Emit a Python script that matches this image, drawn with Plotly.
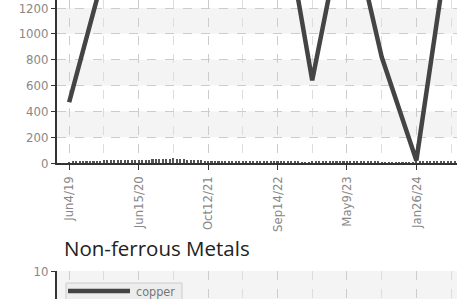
import plotly.graph_objects as go

# ---- data ----
tick_labels = ["Jun4/19", "Jun15/20", "Oct12/21", "Sep14/22", "May9/23", "Jan26/24"]
tick_index = [0, 20, 40, 60, 80, 100]

main_index = [0, 10, 20, 30, 40, 50, 60, 70, 80, 90, 100, 110]
main_values = [470, 1470, 1650, 1750, 1800, 1900, 2190, 640, 1990, 822, 20, 1840]

small_values = [7, 8, 8, 9, 8, 8, 9, 9, 8, 9,
                20, 21, 22, 22, 23, 22, 22, 23, 23, 22, 22, 23, 23, 24,
                30, 32, 33, 34, 33, 34, 35, 34, 33, 33,
                25, 24, 23, 22, 20, 18,
                14, 13, 12, 12, 12, 11, 12, 12, 11, 12, 12, 11, 12, 12, 12, 13, 12, 12, 14, 18,
                15, 11, 10, 9, 9, 8, 8,
                5, 4, 5,
                10, 11, 12, 12, 12, 12, 12, 12, 12, 12, 12, 12, 12, 12, 12, 12, 12, 12, 11, 8,
                6, 5, 5, 5, 5, 5, 5, 5, 6, 6,
                8, 10, 11, 12, 12, 12, 12, 13, 13, 14, 15, 15]
small_index = list(range(len(small_values)))

copper_index = [0, 20, 40, 60, 80, 100, 110]
copper_values = [6.0, 6.5, 7.5, 7.0, 7.2, 7.6, 7.8]
legend_name = "copper"

W, H = 457, 299
ML = 57
PW = W - ML
top_px = 163      # bottom of top plot
bot_top_px = 271  # top of bottom plot


def px(wx):  # window x -> paper x
    return (wx - ML) / PW


def py(wy):  # window y -> paper y
    return 1 - wy / H


narrow = "DejaVu Sans Condensed, Liberation Sans Narrow, Arial Narrow, Roboto Condensed, sans-serif"
tick_font = dict(family=narrow, size=13, color="#888")

fig = go.Figure()
fig.add_trace(go.Bar(x=small_index, y=small_values, width=0.6,
                     marker=dict(color="#555", line=dict(width=0)),
                     showlegend=False, xaxis="x", yaxis="y"))
fig.add_trace(go.Scatter(x=main_index, y=main_values, mode="lines",
                         line=dict(color="#444", width=4.5), showlegend=False,
                         xaxis="x", yaxis="y"))
fig.add_trace(go.Scatter(x=copper_index, y=copper_values, mode="lines", name=legend_name,
                         line=dict(color="#444", width=4.5), showlegend=False,
                         xaxis="x2", yaxis="y2"))

xr = [-3.5, 111.7]
common_x = dict(range=xr, tickmode="array", tickvals=tick_index, ticktext=tick_labels,
                tickangle=-90, ticks="outside", ticklen=5, tickcolor="#333",
                ticklabelstandoff=1,
                showgrid=True, gridcolor="#ccc", griddash="dash", gridwidth=1,
                minor=dict(tick0=0, dtick=10, showgrid=True, gridcolor="#ddd", griddash="dash"),
                zeroline=False, tickfont=tick_font, automargin=False)

fig.update_layout(
    width=W, height=H,
    margin=dict(l=ML, r=0, t=0, b=0),
    plot_bgcolor="white", paper_bgcolor="white",
    bargap=0,
    showlegend=False,
    xaxis=dict(**common_x, showline=True, linecolor="#333", linewidth=2, anchor="y"),
    yaxis=dict(domain=[1 - top_px / H, 1], range=[0, 1262], dtick=200,
               showline=True, linecolor="#333", linewidth=2,
               ticks="outside", ticklen=4, tickcolor="#333",
               showgrid=True, gridcolor="#ccc", griddash="dash",
               zeroline=False, tickfont=tick_font, anchor="x", automargin=False),
    xaxis2=dict(**common_x, showline=False, showticklabels=False, anchor="y2"),
    yaxis2=dict(domain=[0, 1 - bot_top_px / H], range=[8.6, 10.001], dtick=2,
                showline=True, linecolor="#333", linewidth=2,
                ticks="outside", ticklen=4, tickcolor="#333",
                showgrid=True, gridcolor="#ccc", griddash="dash",
                zeroline=False, tickfont=tick_font, anchor="x2", automargin=False),
    shapes=[
        dict(type="rect", xref="x domain", yref="y", x0=0, x1=1, y0=y0, y1=y0 + 200,
             fillcolor="#f4f4f4", line=dict(width=0), layer="below")
        for y0 in [200, 600, 1000]
    ] + [
        dict(type="rect", xref="x2 domain", yref="y2", x0=0, x1=1, y0=8.6, y1=10,
             fillcolor="#f4f4f4", line=dict(width=0), layer="below"),
        # legend box
        dict(type="rect", xref="paper", yref="paper", x0=px(66), x1=px(182), y0=py(283), y1=py(312),
             fillcolor="#ededed", line=dict(color="#ccc", width=1), layer="above"),
        dict(type="line", xref="paper", yref="paper", x0=px(68), x1=px(130), y0=py(291), y1=py(291),
             line=dict(color="#444", width=4.5), layer="above"),
    ],
    annotations=[
        dict(text="Non-ferrous Metals", xref="paper", yref="paper",
             x=px(62), y=py(248), xanchor="left", yanchor="middle", showarrow=False,
             font=dict(family="Open Sans, DejaVu Sans, sans-serif", size=20.5, color="#222")),
        dict(text=legend_name, xref="paper", yref="paper",
             x=px(134), y=py(291), xanchor="left", yanchor="middle", showarrow=False,
             font=dict(family=narrow, size=12.5, color="#777")),
    ],
)

fig.write_html("out.html",
               config={"displayModeBar": False},
               post_script="document.body.style.margin='0';document.body.style.overflow='hidden';")
